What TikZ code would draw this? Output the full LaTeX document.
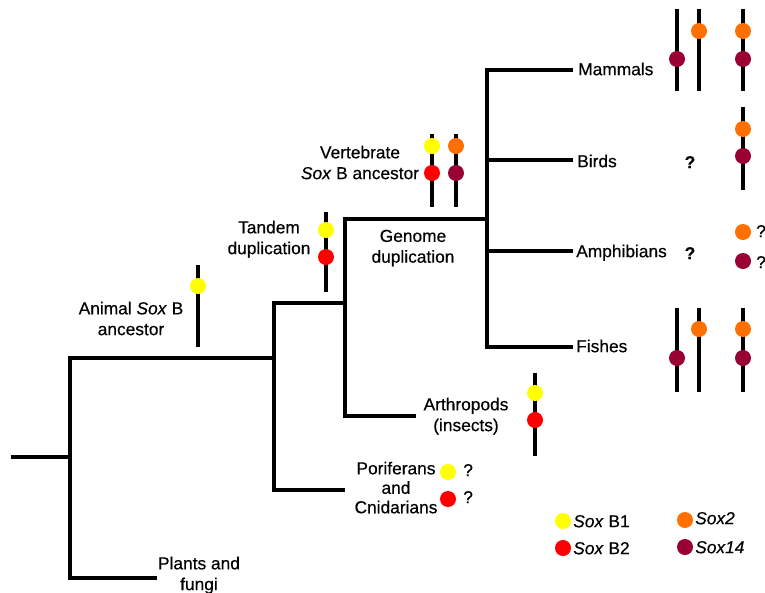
\documentclass[tikz,border=0pt]{standalone}
\usepackage{fontspec}
\setmainfont{Liberation Sans}[FakeBold=0.4]
\definecolor{soxbone}{RGB}{255,255,0}
\definecolor{soxbtwo}{RGB}{255,0,0}
\definecolor{soxtwo}{RGB}{255,112,0}
\definecolor{soxfourteen}{RGB}{153,0,51}
\begin{document}
\begin{tikzpicture}[x=0.75pt,y=-0.75pt,
  branch/.style={line width=2.3pt, line join=miter, line cap=rect},
  genebar/.style={line width=2.3pt},
  gdot/.style={circle, inner sep=0pt, minimum size=12pt, fill=#1},
  lab/.style={font=\fontsize{13}{15.6}\selectfont, inner sep=0pt},
  single/.style={lab, text height=9.3pt, text depth=0pt, anchor=west},
  multi/.style={lab, align=center, anchor=north},
  qm/.style={single, font=\fontsize{13}{15.6}\selectfont\bfseries}
]
\useasboundingbox (0,0) rectangle (765,593);

% ---- tree coordinates
\coordinate (root) at (13,457);
\coordinate (n1) at (70,457);
\coordinate (n1t) at (70,358);
\coordinate (n1b) at (70,578);
\coordinate (plantsEnd) at (155,578);
\coordinate (n2m) at (274,358);
\coordinate (n2t) at (274,303);
\coordinate (n2b) at (274,490);
\coordinate (porEnd) at (343,490);
\coordinate (n3m) at (345,303);
\coordinate (n3t) at (345,219);
\coordinate (n3b) at (345,416);
\coordinate (arthEnd) at (414,416);
\coordinate (n4) at (487,219);
\coordinate (n4t) at (487,70);
\coordinate (n4b) at (487,347);
\coordinate (mamEnd) at (571,70);
\coordinate (birdEnd) at (571,160);
\coordinate (amphEnd) at (571,251);
\coordinate (fishEnd) at (571,347);

\draw[branch] (root) -- (n1);
\draw[branch] (n2m) -- (n1t) -- (n1b) -- (plantsEnd);
\draw[branch] (n3m) -- (n2t) -- (n2b) -- (porEnd);
\draw[branch] (n4) -- (n3t) -- (n3b) -- (arthEnd);
\draw[branch] (mamEnd) -- (n4t) -- (n4b) -- (fishEnd);
\draw[branch] (n4 |- birdEnd) -- (birdEnd);
\draw[branch] (n4 |- amphEnd) -- (amphEnd);

% ---- labels
\node[single] (mam) at (578,69) {Mammals};
\node[single] (bird) at (577,161) {Birds};
\node[single] (amph) at (576,251) {Amphibians};
\node[single] (fish) at (576,346) {Fishes};
\node[multi] (animal) at (131,301.5) {Animal \textit{Sox} B\\ancestor};
\node[multi] (vert) at (360,145.5) {Vertebrate\\\textit{Sox} B ancestor};
\node[multi] (tandem) at (269,220.5) {Tandem\\duplication};
\node[multi] (genome) at (413,229.5) {Genome\\duplication};
\node[multi] (arth) at (466,397.5) {Arthropods\\(insects)};
\node[multi, font=\fontsize{13}{14.6}\selectfont] (por) at (396,461.5) {Poriferans\\and\\Cnidarians};
\node[multi] (plants) at (199,556.5) {Plants and\\fungi};

% ---- gene bars
\coordinate (anT) at (198,265); \coordinate (anB) at (198,347);
\draw[genebar] (anT) -- (anB);
\node[gdot=soxbone] (an1) at (198,286) {};

\coordinate (taT) at (326,212); \coordinate (taB) at (326,292);
\draw[genebar] (taT) -- (taB);
\node[gdot=soxbone] (ta1) at (326,230) {};
\node[gdot=soxbtwo] (ta2) at (326,257) {};

\coordinate (veAT) at (432,134); \coordinate (veAB) at (432,207);
\coordinate (veBT) at (456,134); \coordinate (veBB) at (456,207);
\draw[genebar] (veAT) -- (veAB);
\draw[genebar] (veBT) -- (veBB);
\node[gdot=soxbone] (ve1) at (432,146) {};
\node[gdot=soxbtwo] (ve2) at (432,173) {};
\node[gdot=soxtwo] (ve3) at (456,146) {};
\node[gdot=soxfourteen] (ve4) at (456,173) {};

\coordinate (arT) at (535,373); \coordinate (arB) at (535,456);
\draw[genebar] (arT) -- (arB);
\node[gdot=soxbone] (ar1) at (535,393) {};
\node[gdot=soxbtwo] (ar2) at (535,420) {};

% mammals
\coordinate (maAT) at (677,9); \coordinate (maAB) at (677,91);
\coordinate (maBT) at (699,9); \coordinate (maBB) at (699,91);
\coordinate (maCT) at (743,9); \coordinate (maCB) at (743,91);
\draw[genebar] (maAT) -- (maAB);
\draw[genebar] (maBT) -- (maBB);
\draw[genebar] (maCT) -- (maCB);
\node[gdot=soxfourteen] (ma1) at (677,59) {};
\node[gdot=soxtwo] (ma2) at (699,31) {};
\node[gdot=soxtwo] (ma3) at (743,31) {};
\node[gdot=soxfourteen] (ma4) at (743,59) {};

% birds
\node[qm, anchor=center] (birdq) at (690,162) {?};
\coordinate (biT) at (743,107); \coordinate (biB) at (743,190);
\draw[genebar] (biT) -- (biB);
\node[gdot=soxtwo] (bi1) at (743,129) {};
\node[gdot=soxfourteen] (bi2) at (743,156) {};

% amphibians
\node[qm, anchor=center] (amphq) at (690,253) {?};
\node[gdot=soxtwo] (am1) at (743,232) {};
\node[gdot=soxfourteen] (am2) at (743,261) {};
\node[single] (am1q) at (756,231) {?};
\node[single] (am2q) at (756,262) {?};

% fishes
\coordinate (fiAT) at (677,308); \coordinate (fiAB) at (677,392);
\coordinate (fiBT) at (699,308); \coordinate (fiBB) at (699,392);
\coordinate (fiCT) at (743,308); \coordinate (fiCB) at (743,392);
\draw[genebar] (fiAT) -- (fiAB);
\draw[genebar] (fiBT) -- (fiBB);
\draw[genebar] (fiCT) -- (fiCB);
\node[gdot=soxfourteen] (fi1) at (677,358) {};
\node[gdot=soxtwo] (fi2) at (699,329) {};
\node[gdot=soxtwo] (fi3) at (743,329) {};
\node[gdot=soxfourteen] (fi4) at (743,358) {};

% poriferans
\node[gdot=soxbone] (po1) at (448,472) {};
\node[gdot=soxbtwo] (po2) at (448,499) {};
\node[single] (po1q) at (463,470) {?};
\node[single] (po2q) at (463,497) {?};

% ---- legend
\node[gdot=soxbone] (lg1) at (563,521) {};
\node[single] (lg1t) at (573,521) {\textit{Sox} B1};
\node[gdot=soxbtwo] (lg2) at (563,548) {};
\node[single] (lg2t) at (573,548) {\textit{Sox} B2};
\node[gdot=soxtwo] (lg3) at (685,520) {};
\node[single] (lg3t) at (695,518) {\textit{Sox2}};
\node[gdot=soxfourteen] (lg4) at (685,547) {};
\node[single] (lg4t) at (695,547) {\textit{Sox14}};
\end{tikzpicture}
\end{document}
